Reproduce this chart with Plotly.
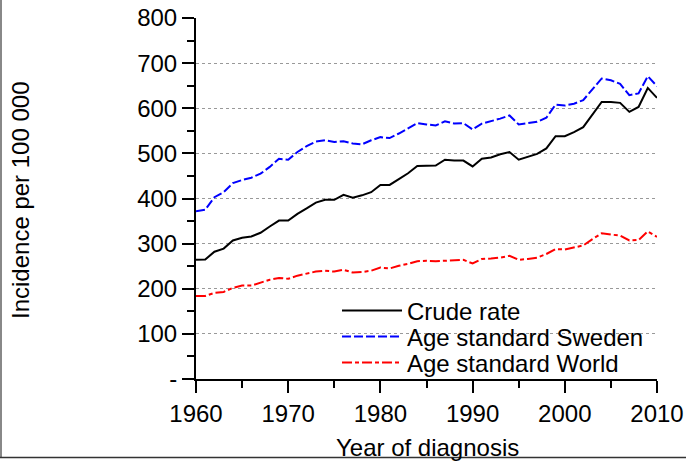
import plotly.graph_objects as go

years = list(range(1960, 2011))
crude_rate = [264, 265, 282, 289, 307, 313, 316, 324, 338, 351,
              351, 366, 378, 391, 397, 397, 408, 402, 407, 414,
              430, 430, 443, 456, 472, 473, 473, 486, 484, 484,
              471, 488, 491, 498, 503, 486, 493, 499, 511, 538,
              538, 547, 558, 587, 614, 614, 612, 592, 603, 645,
              623]
age_std_sweden = [372, 375, 403, 414, 434, 441, 446, 455, 470, 488,
                  486, 503, 516, 526, 529, 525, 527, 522, 520, 529,
                  536, 534, 544, 556, 567, 564, 562, 571, 566, 567,
                  553, 566, 571, 577, 584, 564, 567, 570, 579, 608,
                  606, 610, 618, 643, 666, 662, 654, 629, 633, 671,
                  649]
age_std_world = [184, 184, 191, 193, 202, 207, 207, 213, 220, 224,
                 222, 229, 233, 238, 240, 238, 242, 236, 237, 240,
                 247, 245, 251, 255, 261, 262, 261, 262, 264, 264,
                 256, 266, 267, 269, 273, 264, 266, 269, 277, 288,
                 287, 291, 296, 310, 323, 320, 318, 307, 308, 327,
                 315]
y_tickvals = [0, 100, 200, 300, 400, 500, 600, 700, 800]
y_ticktext = ["-", "100", "200", "300", "400", "500", "600", "700", "800"]
x_tickvals = [1960, 1970, 1980, 1990, 2000, 2010]

W, H = 686, 465
L, R, T, B = 196, 29, 18, 86
pw, ph = W - L - R, H - T - B

def px_x(p):
    return (p - L) / pw

def px_y(p):
    return (H - B - p) / ph

FONT = "Arial, Liberation Sans, sans-serif"

fig = go.Figure()
fig.add_trace(go.Scatter(x=years, y=crude_rate, mode="lines", name="Crude rate",
                         line=dict(color="black", width=2), legend="legend"))
fig.add_trace(go.Scatter(x=years, y=age_std_sweden, mode="lines", name="Age standard Sweden",
                         line=dict(color="#0000ff", width=2, dash="9px,3px"), legend="legend2"))
fig.add_trace(go.Scatter(x=years, y=age_std_world, mode="lines", name="Age standard World",
                         line=dict(color="#ff0000", width=2, dash="10px,3px,4px,3px"), legend="legend3"))

leg_common = dict(x=px_x(337), xanchor="left", yanchor="middle", bgcolor="rgba(0,0,0,0)",
                  font=dict(family=FONT, size=24, color="black"), itemwidth=60,
                  borderwidth=0)
fig.update_layout(
    width=W, height=H,
    margin=dict(l=L, r=R, t=T, b=B),
    paper_bgcolor="white", plot_bgcolor="white",
    font=dict(family=FONT, size=24, color="black"),
    showlegend=True,
    legend=dict(y=px_y(311), **leg_common),
    legend2=dict(y=px_y(337), **leg_common),
    legend3=dict(y=px_y(363), **leg_common),
    xaxis=dict(range=[1960, 2010], tickvals=x_tickvals, showline=True, linecolor="black",
               linewidth=2, ticks="outside", ticklen=12, tickwidth=2, tickcolor="black",
               showgrid=False, zeroline=False, automargin=False,
               minor=dict(dtick=5, ticks="outside", ticklen=7, tickwidth=2, tickcolor="black",
                          showgrid=False),
               tickfont=dict(size=24)),
    yaxis=dict(range=[0, 800], tickvals=y_tickvals, ticktext=y_ticktext, showline=True,
               linecolor="black", linewidth=2, ticks="outside", ticklen=12, tickwidth=2,
               tickcolor="black", showgrid=True, gridcolor="#999999", gridwidth=1,
               griddash="dot", zeroline=False, automargin=False,
               minor=dict(dtick=50, ticks="outside", ticklen=7, tickwidth=2, tickcolor="black",
                          showgrid=False),
               tickfont=dict(size=24)),
    shapes=[
        dict(type="rect", xref="paper", yref="paper", x0=px_x(302), x1=px_x(655),
             y0=px_y(378), y1=px_y(296), fillcolor="white", line=dict(width=0), layer="between"),
        dict(type="line", xref="paper", yref="paper", x0=px_x(1), x1=px_x(1),
             y0=px_y(0), y1=px_y(457), line=dict(color="#888888", width=2)),
        dict(type="line", xref="paper", yref="paper", x0=px_x(0), x1=px_x(686),
             y0=px_y(457.5), y1=px_y(457.5), line=dict(color="#333333", width=1.5)),
    ],
    annotations=[
        dict(text="Year of diagnosis", xref="paper", yref="paper", x=px_x(427), y=px_y(447),
             xanchor="center", yanchor="middle", showarrow=False, font=dict(size=24)),
        dict(text="Incidence per 100 000", xref="paper", yref="paper", x=px_x(20), y=px_y(200),
             xanchor="center", yanchor="middle", showarrow=False, textangle=-90,
             font=dict(size=24)),
    ],
)

fig.write_html("out.html",
               config={"displayModeBar": False},
               post_script="document.body.style.margin='0px';document.body.style.padding='0px';"
                           "document.documentElement.style.overflow='hidden';")
